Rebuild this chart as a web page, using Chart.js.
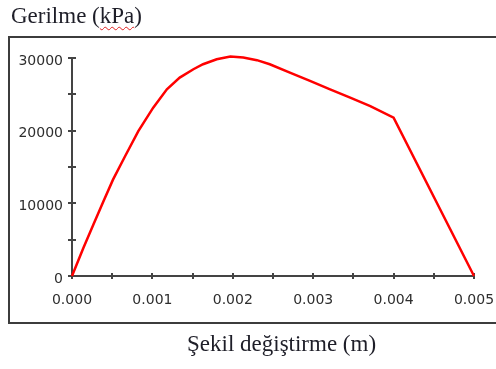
<!DOCTYPE html>
<html>
<head>
<meta charset="utf-8">
<script src="https://cdn.jsdelivr.net/npm/chart.js@4"></script>
<style>
  body { margin: 0; background: #fff; }
  #wrap { position: relative; width: 496px; height: 369px; overflow: hidden; }
  #grafik { position: absolute; left: 0; top: 0; }
  .kutu { position: absolute; left: 8px; top: 36px; width: 500px; height: 284px; border: 2px solid #3c3c3c; }
  .baslik { position: absolute; font-family: "Liberation Serif", "Times New Roman", serif; font-size: 23px; color: #1e1e28; white-space: nowrap; }
  #ybaslik { left: 11px; top: 3px; }
  #xbaslik { left: 187px; top: 331px; }
  .hata { text-decoration: underline wavy #e02020; text-decoration-thickness: 1px; text-underline-offset: 3px; }
</style>
</head>
<body>
<div id="wrap">
  <div class="kutu"></div>
  <canvas id="grafik" width="496" height="369"></canvas>
  <div class="baslik" id="ybaslik">Gerilme (<span class="hata">kPa</span>)</div>
  <div class="baslik" id="xbaslik">Şekil değiştirme (m)</div>
</div>
<script>
// gerilme - şekil değiştirme eğrisi
const sekilDegistirme = [0, 0.00014, 0.000265, 0.00039, 0.00051, 0.00066, 0.000825, 0.00101, 0.00118, 0.00134, 0.00151, 0.00163, 0.0018, 0.00197, 0.00213, 0.0023, 0.00246, 0.00271, 0.00296, 0.00321, 0.00346, 0.00371, 0.004, 0.005];
const gerilme = [0, 3830, 7040, 10260, 13260, 16480, 19930, 23160, 25690, 27300, 28450, 29140, 29830, 30200, 30070, 29700, 29140, 28000, 26840, 25690, 24540, 23380, 21780, 0];

const xMax = 0.005;
const yMax = 30000;
const xEtiketAdim = 0.001;
const yEtiketAdim = 10000;
const xAraAdim = 0.0005;
const yAraAdim = 5000;

const etiketFont = { family: "'DejaVu Sans', Verdana, sans-serif", size: 14 };
const etiketRenk = '#2e2e2e';

// eksen çizgileri ve iki yöne taşan çentikler
const eksenler = {
    id: 'eksenler',
    beforeDatasetsDraw(chart) {
        const { ctx, scales: { x, y } } = chart;
        const x0 = x.getPixelForValue(0);
        const x1 = x.getPixelForValue(xMax);
        const y0 = y.getPixelForValue(0);
        const y1 = y.getPixelForValue(yMax);
        ctx.save();
        ctx.strokeStyle = '#444';
        ctx.lineWidth = 2;
        ctx.beginPath();
        ctx.moveTo(x0, y1);
        ctx.lineTo(x0, y0);
        ctx.lineTo(x1, y0);
        ctx.stroke();
        ctx.beginPath();
        for (let v = 0; v <= xMax + 1e-9; v += xAraAdim) {
            const px = Math.round(x.getPixelForValue(v));
            ctx.moveTo(px, y0 - 3);
            ctx.lineTo(px, y0 + 3);
        }
        for (let v = 0; v <= yMax + 1e-6; v += yAraAdim) {
            const py = Math.round(y.getPixelForValue(v));
            ctx.moveTo(x0 - 4, py);
            ctx.lineTo(x0 + 4, py);
        }
        ctx.stroke();
        ctx.restore();
    }
};

const grafik = document.getElementById('grafik');

new Chart(grafik, {
    type: 'scatter',
    data: {
        datasets: [{
            data: sekilDegistirme.map((s, i) => ({ x: s, y: gerilme[i] })),
            showLine: true,
            borderColor: '#ff0000',
            borderWidth: 2.5,
            pointRadius: 0,
            tension: 0,
            clip: 6
        }]
    },
    options: {
        responsive: false,
        animation: false,
        layout: { padding: { left: 0, right: 22, top: 58, bottom: 0 } },
        plugins: {
            legend: { display: false },
            tooltip: { enabled: false }
        },
        scales: {
            x: {
                type: 'linear',
                min: 0,
                max: xMax,
                grid: { display: false, drawTicks: false },
                border: { display: false },
                ticks: {
                    stepSize: xEtiketAdim,
                    callback: v => v.toFixed(3),
                    font: etiketFont,
                    color: etiketRenk,
                    padding: 16,
                    maxRotation: 0
                },
                afterFit(s) {
                    s.height = 93;
                    s.paddingLeft = 0;
                    s.paddingRight = 0;
                }
            },
            y: {
                min: 0,
                max: yMax,
                grid: { display: false, drawTicks: false },
                border: { display: false },
                ticks: {
                    stepSize: yEtiketAdim,
                    callback: v => String(v),
                    font: etiketFont,
                    color: etiketRenk,
                    padding: 9,
                    labelOffset: 3
                },
                afterFit(s) {
                    s.width = 72;
                    s.paddingTop = 0;
                    s.paddingBottom = 0;
                }
            }
        }
    },
    plugins: [eksenler]
});
</script>
</body>
</html>
